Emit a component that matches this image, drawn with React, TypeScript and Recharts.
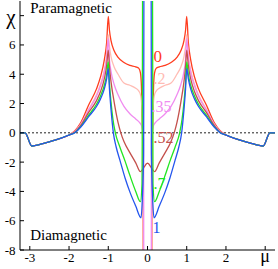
import { LineChart, Line, XAxis, YAxis, ReferenceLine, ReferenceDot } from 'recharts';

type Pt = [number, number];

// shared outer tails (all curves sit on the same tail for |mu| > 2)
const tailLeft: Pt[] = [[-3.25, 0], [-3.12, 0], [-2.95, -0.9], [-2.6, -0.68], [-2.3, -0.45], [-2.0, -0.15]];
const tailRight: Pt[] = [[2.0, -0.15], [2.3, -0.45], [2.6, -0.68], [2.95, -0.9], [3.12, 0], [3.25, 0]];

const curve0: Pt[] = [
  [-1.85, 0.15], [-1.7, 0.7], [-1.5, 1.9], [-1.3, 3.0], [-1.2, 3.8], [-1.1, 5.0], [-1.04, 6.2], [-1.0, 7.95],
  [-0.97, 7.0], [-0.93, 6.3], [-0.85, 5.6], [-0.75, 5.15], [-0.6, 4.8], [-0.45, 4.6], [-0.3, 4.5], [-0.22, 4.4],
  [-0.18, 4.1], [-0.155, 3.2], [-0.135, 1.0], [-0.115, -2.0], [-0.09, -40],
  [0.09, -40], [0.115, -2.0], [0.135, 1.0], [0.155, 3.2], [0.18, 4.1], [0.22, 4.4], [0.3, 4.5], [0.45, 4.6],
  [0.6, 4.8], [0.75, 5.15], [0.85, 5.6], [0.93, 6.3], [0.97, 7.0], [1.0, 7.95], [1.04, 6.2], [1.1, 5.0],
  [1.2, 3.8], [1.3, 3.0], [1.5, 1.9], [1.7, 0.7], [1.85, 0.15],
];

const curve02: Pt[] = [
  [-1.85, 0.1], [-1.7, 0.6], [-1.5, 1.6], [-1.3, 2.6], [-1.2, 3.3], [-1.1, 4.3], [-1.04, 5.3], [-1.0, 6.7],
  [-0.97, 5.9], [-0.93, 5.2], [-0.85, 4.5], [-0.75, 4.0], [-0.6, 3.4], [-0.45, 3.25], [-0.3, 3.05], [-0.22, 2.85],
  [-0.17, 2.5], [-0.14, 1.6], [-0.115, 0], [-0.09, -40],
  [0.09, -40], [0.115, 0], [0.14, 1.6], [0.17, 2.5], [0.22, 2.85], [0.3, 3.05], [0.45, 3.25], [0.6, 3.4],
  [0.75, 4.0], [0.85, 4.5], [0.93, 5.2], [0.97, 5.9], [1.0, 6.7], [1.04, 5.3], [1.1, 4.3], [1.2, 3.3],
  [1.3, 2.6], [1.5, 1.6], [1.7, 0.6], [1.85, 0.1],
];

const curve035: Pt[] = [
  [-1.85, 0.09], [-1.7, 0.57], [-1.5, 1.55], [-1.3, 2.5], [-1.2, 3.2], [-1.1, 4.15], [-1.04, 5.15], [-1.0, 6.45],
  [-0.97, 5.0], [-0.93, 4.2], [-0.85, 3.3], [-0.75, 2.6], [-0.6, 1.8], [-0.45, 1.3], [-0.3, 0.95], [-0.2, 0.7],
  [-0.14, 0.4], [-0.1, -0.5], [-0.085, -40],
  [0.085, -40], [0.1, -0.5], [0.14, 0.4], [0.2, 0.7], [0.3, 0.95], [0.45, 1.3], [0.6, 1.8], [0.75, 2.6],
  [0.85, 3.3], [0.93, 4.2], [0.97, 5.0], [1.0, 6.45], [1.04, 5.15], [1.1, 4.15], [1.2, 3.2], [1.3, 2.5],
  [1.5, 1.55], [1.7, 0.57], [1.85, 0.09],
];

const curve052: Pt[] = [
  [-1.85, 0.05], [-1.7, 0.5], [-1.5, 1.4], [-1.3, 2.2], [-1.2, 2.8], [-1.1, 3.7], [-1.04, 4.6], [-1.0, 5.65],
  [-0.97, 4.5], [-0.93, 3.5], [-0.85, 2.1], [-0.75, 0.7], [-0.68, 0], [-0.6, -0.6], [-0.45, -1.35], [-0.3, -2.05],
  [-0.18, -2.65], [-0.09, -2.35], [-0.02, -2.1], [0, -2.07], [0.02, -2.1],
  [0.09, -2.35], [0.18, -2.65], [0.3, -2.05], [0.45, -1.35], [0.6, -0.6], [0.68, 0], [0.75, 0.7], [0.85, 2.1],
  [0.93, 3.5], [0.97, 4.5], [1.0, 5.65], [1.04, 4.6], [1.1, 3.7], [1.2, 2.8], [1.3, 2.2], [1.5, 1.4],
  [1.7, 0.5], [1.85, 0.05],
];

const curve07: Pt[] = [
  [-1.85, 0.02], [-1.7, 0.44], [-1.5, 1.2], [-1.3, 1.95], [-1.2, 2.5], [-1.1, 3.25], [-1.04, 4.0], [-1.0, 4.85],
  [-0.97, 3.4], [-0.93, 2.1], [-0.88, 0.9], [-0.82, 0], [-0.7, -1.0], [-0.57, -1.95], [-0.45, -2.9], [-0.3, -4.0],
  [-0.18, -4.7], [-0.14, -3.5], [-0.1, 40],
  [0.1, 40], [0.14, -3.5], [0.18, -4.7], [0.3, -4.0], [0.45, -2.9], [0.57, -1.95], [0.7, -1.0], [0.82, 0],
  [0.88, 0.9], [0.93, 2.1], [0.97, 3.4], [1.0, 4.85], [1.04, 4.0], [1.1, 3.25], [1.2, 2.5], [1.3, 1.95],
  [1.5, 1.2], [1.7, 0.44], [1.85, 0.02],
];

const curve1: Pt[] = [
  [-1.85, 0], [-1.7, 0.4], [-1.5, 1.1], [-1.3, 1.8], [-1.2, 2.3], [-1.1, 3.0], [-1.04, 3.7], [-1.0, 4.4],
  [-0.97, 3.0], [-0.93, 1.6], [-0.87, 0], [-0.8, -0.95], [-0.7, -1.9], [-0.57, -3.1], [-0.44, -4.1], [-0.3, -5.0],
  [-0.165, -5.8], [-0.13, -4.4], [-0.1, -1.5], [-0.075, 40],
  [0.075, 40], [0.1, -1.5], [0.13, -4.4], [0.165, -5.8], [0.3, -5.0], [0.44, -4.1], [0.57, -3.1], [0.7, -1.9],
  [0.8, -0.95], [0.87, 0], [0.93, 1.6], [0.97, 3.0], [1.0, 4.4], [1.04, 3.7], [1.1, 3.0], [1.2, 2.3],
  [1.3, 1.8], [1.5, 1.1], [1.7, 0.4], [1.85, 0],
];

const seriesNames = ['0', '.2', '.35', '.52', '.7', '1'];
const seriesCurves = [curve0, curve02, curve035, curve052, curve07, curve1];
const seriesColors = ['#ff3c1e', '#ffbcb4', '#f08cf0', '#c4504c', '#22e622', '#2456ee'];
// where each curve label sits, in data units (mu, chi)
const labelSpots: Pt[] = [[0.15, 4.85], [0.15, 3.3], [0.1, 1.45], [0.15, -0.7], [0.15, -3.85], [0.13, -6.85]];
const labelSizes = [17, 16, 16, 16, 16, 16];

const xTicks = [-3, -2, -1, 0, 1, 2, 3];
const yTicks = [-8, -6, -4, -2, 0, 2, 4, 6, 8];

const FONT = '"Liberation Serif", "DejaVu Serif", serif';

function toRows(pts: Pt[]) {
  return pts.map(([mu, chi]) => ({ mu, chi }));
}

const YTick = ({ x, y, payload }: any) => {
  if (payload.value === 8) {
    return (
      <text x={x} y={y} dy={8} textAnchor="end" fontSize={21} fontFamily={FONT} fill="#000">
        χ
      </text>
    );
  }
  return (
    <text x={x} y={y} dy={4.5} textAnchor="end" fontSize={13} fontFamily={FONT} fill="#000">
      {payload.value}
    </text>
  );
};

const XTick = ({ x, y, payload }: any) => {
  if (payload.value === 3) {
    return (
      <text x={x} y={y} dy={15.5} textAnchor="middle" fontSize={18} fontFamily={FONT} fill="#000">
        μ
      </text>
    );
  }
  return (
    <text x={x} y={y} dy={16} textAnchor="middle" fontSize={13} fontFamily={FONT} fill="#000">
      {payload.value}
    </text>
  );
};

const textAt = (label: string, color: string, size: number) => (p: any) => (
  <text x={p.cx} y={p.cy} fontSize={size} fontFamily={FONT} fill={color}>
    {label}
  </text>
);

export default function App() {
  return (
    <div style={{ position: 'absolute', left: 0, top: 0 }}>
      <LineChart width={278} height={269} margin={{ top: 1, right: 3, bottom: 0, left: 0 }}>
        <XAxis
          dataKey="mu"
          type="number"
          domain={[-3.25, 3.25]}
          allowDataOverflow
          ticks={xTicks}
          tick={<XTick />}
          tickSize={-4}
          tickMargin={0}
          height={19}
          stroke="#000"
          interval={0}
        />
        <XAxis
          xAxisId="t"
          orientation="top"
          type="number"
          domain={[-3.25, 3.25]}
          allowDataOverflow
          ticks={xTicks}
          tick={false}
          tickSize={-4}
          height={0}
          stroke="#000"
          interval={0}
        />
        <YAxis
          type="number"
          domain={[-8, 9]}
          allowDataOverflow
          ticks={yTicks}
          tick={<YTick />}
          tickSize={-4}
          tickMargin={8.5}
          width={20}
          stroke="#000"
          interval={0}
        />
        <YAxis
          yAxisId="r"
          orientation="right"
          type="number"
          domain={[-8, 9]}
          allowDataOverflow
          ticks={yTicks}
          tick={false}
          tickSize={-4}
          width={0}
          stroke="#000"
          interval={0}
        />
        <ReferenceLine y={0} stroke="#222" strokeDasharray="2 2" strokeWidth={1} />
        {seriesCurves.map((pts, i) => (
          <Line
            key={seriesNames[i]}
            data={toRows([...tailLeft, ...pts, ...tailRight])}
            dataKey="chi"
            type="monotone"
            stroke={seriesColors[i]}
            strokeWidth={1.3}
            dot={false}
            isAnimationActive={false}
          />
        ))}
        {seriesNames.map((name, i) => (
          <ReferenceDot
            key={'lab' + name}
            x={labelSpots[i][0]}
            y={labelSpots[i][1]}
            r={0}
            shape={textAt(name, seriesColors[i], labelSizes[i])}
          />
        ))}
        <ReferenceDot x={-2.99} y={8.15} r={0} shape={textAt('Paramagnetic', '#000', 15)} />
        <ReferenceDot x={-2.99} y={-7.3} r={0} shape={textAt('Diamagnetic', '#000', 15)} />
      </LineChart>
    </div>
  );
}
